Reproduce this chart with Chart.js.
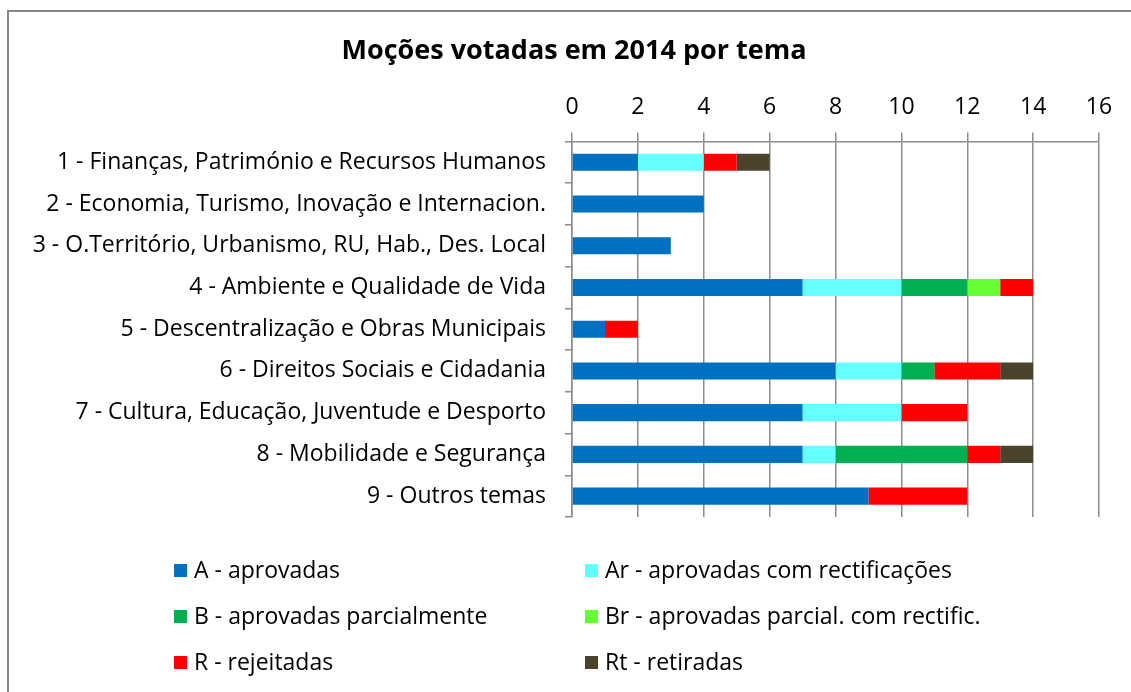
<!DOCTYPE html>
<html>
<head>
<meta charset="utf-8">
<script src="https://cdn.jsdelivr.net/npm/chart.js@4/dist/chart.umd.min.js"></script>
<style>
  html, body { margin: 0; padding: 0; background: #fff; }
  #wrap { width: 1131px; height: 692px; position: relative; }
</style>
</head>
<body>
<div id="wrap"><canvas id="myChart"></canvas></div>
<script>
const temas = [
  '1 - Finanças, Património e Recursos Humanos',
  '2 - Economia, Turismo, Inovação e Internacion.',
  '3 - O.Território, Urbanismo, RU, Hab., Des. Local',
  '4 - Ambiente e Qualidade de Vida',
  '5 - Descentralização e Obras Municipais',
  '6 - Direitos Sociais e Cidadania',
  '7 - Cultura, Educação, Juventude e Desporto',
  '8 - Mobilidade e Segurança',
  '9 - Outros temas'
]

const aprovadas        = [2, 4, 3, 7, 1, 8, 7, 7, 9]
const aprovadasRect    = [2, 0, 0, 3, 0, 2, 3, 1, 0]
const parcialmente     = [0, 0, 0, 2, 0, 1, 0, 4, 0]
const parcialmenteRect = [0, 0, 0, 1, 0, 0, 0, 0, 0]
const rejeitadas       = [1, 0, 0, 1, 1, 2, 2, 1, 3]
const retiradas        = [1, 0, 0, 0, 0, 1, 0, 1, 0]

const xTicks = [0, 2, 4, 6, 8, 10, 12, 14, 16]

const FONT = '"Open Sans", "Noto Sans", sans-serif'

const mkSet = (label, data, color) => ({
  label: label,
  data: data,
  backgroundColor: color,
  borderWidth: 0,
  barPercentage: 0.41,
  categoryPercentage: 1
})

const data = {
  labels: temas,
  datasets: [
    mkSet('A - aprovadas', aprovadas, '#0070C0'),
    mkSet('Ar - aprovadas com rectificações', aprovadasRect, '#66FFFF'),
    mkSet('B - aprovadas parcialmente', parcialmente, '#00B050'),
    mkSet('Br - aprovadas parcial. com rectific.', parcialmenteRect, '#66FF33'),
    mkSet('R - rejeitadas', rejeitadas, '#FF0000'),
    mkSet('Rt - retiradas', retiradas, '#4B432B')
  ]
}

// frame, title offset + legend in a 2 column grid like the original
const extras = {
  id: 'extras',
  afterLayout(chart) {
    // the original centres the title a bit right of the canvas middle
    if (chart.titleBlock) chart.titleBlock.left = 49
  },
  beforeDraw(chart) {
    const ctx = chart.ctx
    ctx.save()
    ctx.fillStyle = '#868686'
    ctx.fillRect(7, 10, 2, chart.height)
    ctx.fillRect(7, 10, chart.width, 2)
    ctx.restore()
  },
  afterDraw(chart) {
    const ctx = chart.ctx
    const cols = [174, 585]
    const rows = [571, 617, 663]
    ctx.save()
    ctx.font = '23px ' + FONT
    ctx.textBaseline = 'middle'
    ctx.textAlign = 'left'
    chart.data.datasets.forEach((ds, i) => {
      const x = cols[i % 2]
      const y = rows[Math.floor(i / 2)]
      ctx.fillStyle = ds.backgroundColor
      ctx.fillRect(x, y - 7, 13, 13)
      ctx.fillStyle = '#000'
      ctx.fillText(ds.label, x + 20, y)
    })
    ctx.restore()
  }
}

const config = {
  type: 'bar',
  data: data,
  options: {
    indexAxis: 'y',
    animation: false,
    responsive: true,
    maintainAspectRatio: false,
    layout: { padding: { left: 0, right: 32, top: 0, bottom: 175 } },
    scales: {
      x: {
        position: 'top',
        stacked: true,
        min: 0,
        max: 16,
        afterBuildTicks: (axis) => { axis.ticks = xTicks.map(v => ({ value: v })) },
        afterFit: (axis) => { axis.height = 74 },
        ticks: {
          color: '#000',
          padding: 11,
          font: { family: FONT, size: 23 }
        },
        grid: { color: '#8c8c8c', lineWidth: 1.5, tickLength: 9 },
        border: { color: '#8c8c8c', width: 1.5 }
      },
      y: {
        stacked: true,
        afterFit: (axis) => { axis.width = 572 },
        ticks: {
          color: '#000',
          padding: 19,
          font: { family: FONT, size: 23 }
        },
        grid: { drawOnChartArea: false, color: '#8c8c8c', lineWidth: 1.5, tickLength: 7 },
        border: { color: '#8c8c8c', width: 1.5 }
      }
    },
    plugins: {
      legend: { display: false },
      tooltip: { enabled: false },
      title: {
        display: true,
        text: 'Moções votadas em 2014 por tema',
        color: '#000',
        font: { family: FONT, size: 27, weight: 'bold' },
        padding: { top: 35, bottom: 0 }
      }
    }
  },
  plugins: [extras]
}

const myChart = new Chart(document.getElementById('myChart'), config)
</script>
</body>
</html>
